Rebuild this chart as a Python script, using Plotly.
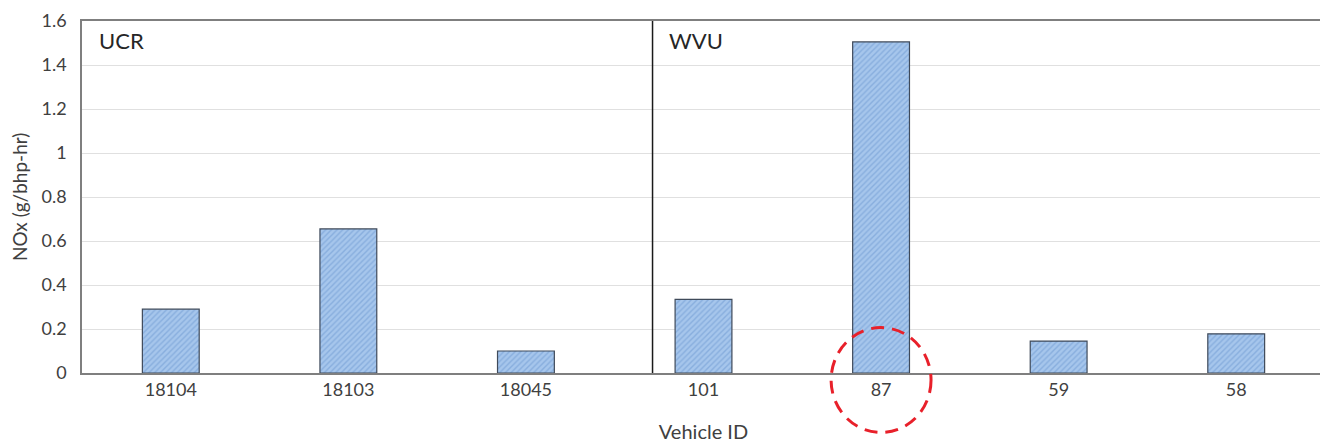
import plotly.graph_objects as go

vehicle_ids = ["18104", "18103", "18045", "101", "87", "59", "58"]
nox_values = [0.29, 0.655, 0.10, 0.335, 1.505, 0.145, 0.178]
group_labels = ["UCR", "WVU"]
y_ticks = [0, 0.2, 0.4, 0.6, 0.8, 1.0, 1.2, 1.4, 1.6]

FONT = "Lato, 'Open Sans', sans-serif"
n = len(vehicle_ids)
highlight = vehicle_ids.index("87")

fig = go.Figure(go.Bar(
    x=vehicle_ids, y=nox_values,
    marker=dict(
        color="#a0c2ea",
        line=dict(color="#3f4a5a", width=1.2),
        pattern=dict(shape="/", fgcolor="#6a96cf", bgcolor="#a6c6ec", size=4, solidity=0.35),
    ),
))

# page body has an 8px margin, so the figure is sized to fit the 1328x443 window
fig.update_layout(
    width=1320, height=435,
    margin=dict(l=74, r=1, t=10, b=70),
    paper_bgcolor="white", plot_bgcolor="white",
    bargap=0.68, showlegend=False,
    font=dict(family=FONT, color="#404040", size=18),
)
fig.update_xaxes(
    showline=True, linecolor="#7f7f7f", linewidth=1.5, mirror=True,
    ticks="", tickfont=dict(size=18, color="#404040"),
    title=dict(text="Vehicle ID", font=dict(size=20, color="#404040"), standoff=26),
)
fig.update_yaxes(
    range=[0, 1.6], tickvals=y_ticks, ticklabeloverflow="allow",
    showgrid=True, gridcolor="#e0e0e0", gridwidth=1,
    showline=True, linecolor="#7f7f7f", linewidth=1.5, mirror=True,
    ticks="", tickfont=dict(size=18, color="#404040"), ticklabelstandoff=10,
    zeroline=False,
)

# y-axis title placed as rotated text
fig.add_annotation(text="NOx (g/bhp-hr)", xref="paper", yref="paper", x=-0.0506, y=0.5,
                   xanchor="center", yanchor="middle", textangle=-90, showarrow=False,
                   font=dict(size=19, color="#404040"))

# divider between groups
fig.add_shape(type="line", xref="paper", yref="paper", x0=0.459, x1=0.459, y0=0, y1=1,
              line=dict(color="#1a1a1a", width=1.5))

# group labels
fig.add_annotation(text=group_labels[0], xref="paper", yref="paper", x=0.012, y=0.945,
                   xanchor="left", yanchor="middle", showarrow=False,
                   font=dict(size=22, color="#262626"))
fig.add_annotation(text=group_labels[1], xref="paper", yref="paper", x=0.471, y=0.945,
                   xanchor="left", yanchor="middle", showarrow=False,
                   font=dict(size=22, color="#262626"))

# dashed red circle around the highlighted vehicle
cx = (highlight + 0.5) / n
fig.add_shape(type="circle", xref="paper", yref="paper",
              x0=cx - 0.0402, x1=cx + 0.0402, y0=-0.169, y1=0.129,
              line=dict(color="#e8202a", width=3, dash="13px,8px"))

fig.write_html("out.html")
